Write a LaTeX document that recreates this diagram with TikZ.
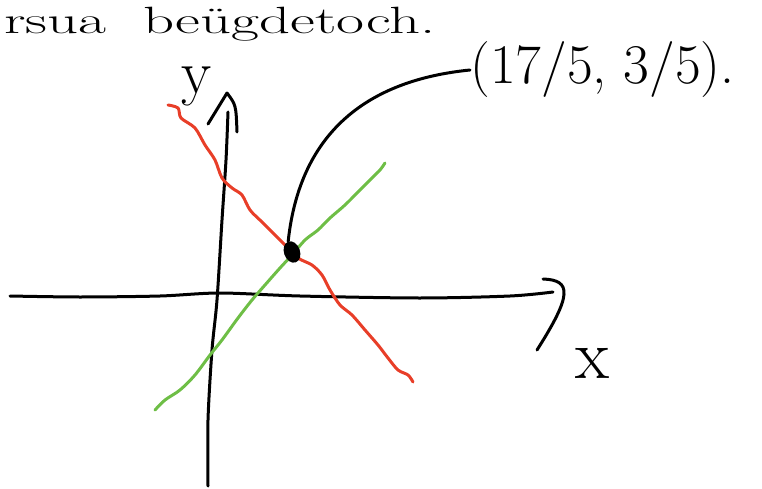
\documentclass[tikz,border=0pt]{standalone}
\usepackage{tikz}
\usepackage{graphicx}
\usetikzlibrary{positioning,arrows.meta,calc,shapes.geometric}

\begin{document}
\begin{tikzpicture}[
  x=1pt, y=-1pt, % pixel units, y down
  pen/.style={line width=3pt, line cap=round, line join=round},
  redline/.style={pen, draw={rgb,255:red,232;green,62;blue,40}},
  greenline/.style={pen, draw={rgb,255:red,110;green,190;blue,70}},
  hand/.style={inner sep=0pt, font=\fontsize{46}{46}\selectfont}
]
\useasboundingbox (0,0) rectangle (762,489);

% top line
\node (head) [hand, anchor=north west, font=\fontsize{38}{38}\selectfont] at (4,7) {\scalebox{1.6}[1]{rsua\ \ be\"ugdetoch.}};

% axes
\coordinate (xstart) at (10,296);
\coordinate (xend) at (553,292);
\coordinate (ystart) at (208,486);
\coordinate (yend) at (228,112);
\draw[pen] plot[smooth] coordinates {(xstart) (80,297) (160,296) (220,293) (300,296) (420,298) (510,296) (xend)};
\draw[pen] (543,279) .. controls (572,280) and (572,295) .. (537,350);
\draw[pen] plot[smooth] coordinates {(ystart) (208,420) (212,350) (217,300) (222,220) (226,160) (yend)};
\draw[pen] (208,124) -- (227,93) .. controls (236,105) .. (237,132);

\node (xlbl) [hand, font=\fontsize{70}{70}\selectfont] at (592,363) {x};
\node (ylbl) [hand, font=\fontsize{62}{62}\selectfont] at (197,86) {y};

% lines
\draw[redline] plot[smooth] coordinates {(168,105) (178,108) (181,118) (195,128) (205,145) (215,160) (222,178) (232,188) (242,195) (250,210) (262,222) (272,232) (285,245) (298,258) (312,265) (322,275) (330,290) (340,305) (352,315) (365,330) (378,345) (388,358) (398,370) (408,375) (413,382)};
\draw[greenline] plot[smooth] coordinates {(155,410) (165,400) (180,390) (195,375) (210,355) (222,340) (238,318) (252,300) (265,285) (280,268) (292,255) (305,240) (318,230) (330,218) (345,205) (360,190) (372,178) (380,170) (385,163)};

% intersection
\node (dot) [fill=black, ellipse, minimum width=16pt, minimum height=22pt, inner sep=0pt, rotate=20] at (292,252) {};
\node (pt) [hand, anchor=west, font=\fontsize{56}{56}\selectfont] at (470,70) {(17/5, 3/5).};
\draw[pen] (dot.north) .. controls (300,130) and (370,80) .. (pt.west);
\end{tikzpicture}
\end{document}
